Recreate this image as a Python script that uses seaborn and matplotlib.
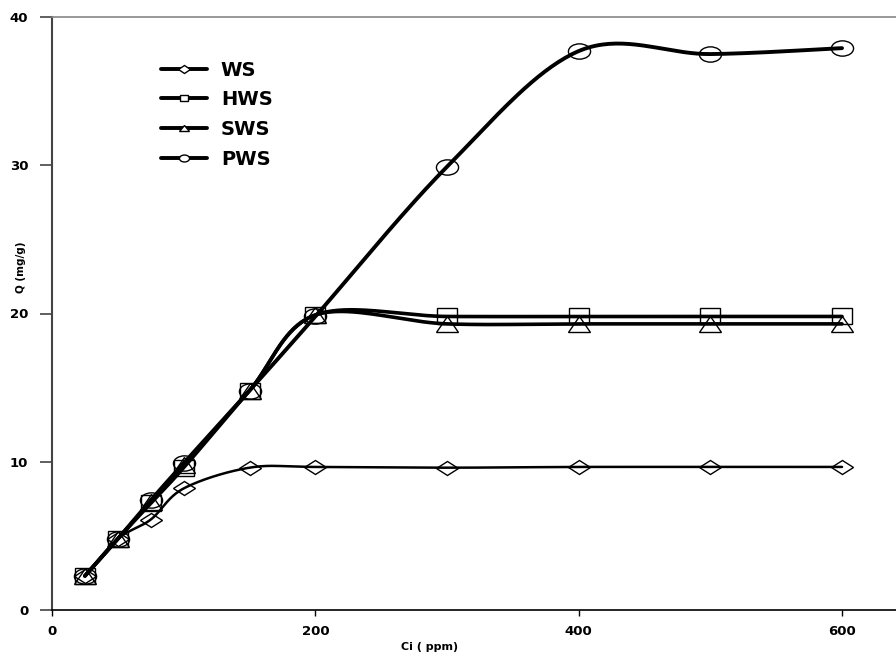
import numpy as np
import pandas as pd
import matplotlib
matplotlib.use("Agg")
import matplotlib.pyplot as plt
import seaborn as sns
from matplotlib.lines import Line2D
from matplotlib.markers import MarkerStyle
from matplotlib.transforms import Affine2D

ci = [25, 50, 75, 100, 150, 200, 300, 400, 500, 600]
ws = [2.3, 4.8, 6.1, 8.2, 9.6, 9.65, 9.6, 9.65, 9.65, 9.65]
hws = [2.3, 4.8, 7.2, 9.6, 14.8, 19.9, 19.8, 19.8, 19.8, 19.8]
sws = [2.3, 4.8, 7.3, 9.8, 14.8, 19.9, 19.3, 19.3, 19.3, 19.3]
pws = [2.3, 4.8, 7.4, 9.9, 14.8, 19.8, 29.9, 37.7, 37.5, 37.9]
series = ["WS", "HWS", "SWS", "PWS"]
xticks = [0, 200, 400, 600]
yticks = [0, 10, 20, 30, 40]


def smooth(x, y, n=40):
    # Excel-like smoothed line (cubic Bezier through the points)
    x = np.asarray(x, float); y = np.asarray(y, float)
    P = np.column_stack([x, y])
    out = []
    for i in range(len(P) - 1):
        p0 = P[i - 1] if i > 0 else P[i]
        p1 = P[i]; p2 = P[i + 1]
        p3 = P[i + 2] if i + 2 < len(P) else P[i + 1]
        c1 = p1 + (p2 - p0) / 6.0
        c2 = p2 - (p3 - p1) / 6.0
        t = np.linspace(0, 1, n)[:, None]
        seg = ((1 - t) ** 3) * p1 + 3 * ((1 - t) ** 2) * t * c1 + 3 * (1 - t) * t ** 2 * c2 + t ** 3 * p2
        out.append(seg if i == 0 else seg[1:])
    s = np.vstack(out)
    return s[:, 0], s[:, 1]


sns.set_style("white")
plt.rcParams['font.family'] = ['DejaVu Sans']
plt.rcParams['text.color'] = 'black'
plt.rcParams['axes.labelcolor'] = 'black'
plt.rcParams['xtick.color'] = 'black'
plt.rcParams['ytick.color'] = 'black'

W, H = 896, 656
L, R, B, T = 52, 896, 610, 17
fig = plt.figure(figsize=(W / 100, H / 100), dpi=100)
ax = fig.add_axes([L / W, 1 - B / H, (R - L) / W, (B - T) / H])
aw, ah = R - L, B - T

vals = {"WS": ws, "HWS": hws, "SWS": sws, "PWS": pws}
base = {"WS": "D", "HWS": "s", "SWS": "^", "PWS": "o"}
xscale = {"WS": 1.6, "HWS": 1.15, "SWS": 1.45, "PWS": 1.45}
msize = {"WS": 7, "HWS": 12, "SWS": 11, "PWS": 11}
lw = {"WS": 1.8, "HWS": 2.6, "SWS": 2.6, "PWS": 2.8}


def mstyle(name):
    return MarkerStyle(base[name], transform=Affine2D().scale(xscale[name], 1.0))


rows = []
for name in series:
    sx, sy = smooth(ci, vals[name])
    rows.append(pd.DataFrame({"x": sx, "y": sy, "s": name}))
curve = pd.concat(rows)

for name in series:
    ax.plot(ci, vals[name], ls="none", marker=mstyle(name), ms=msize[name],
            mfc="none", mec="black", mew=1.0, zorder=3)
for name in series:
    d = curve[curve.s == name]
    sns.lineplot(data=d, x="x", y="y", ax=ax, color="black", lw=lw[name],
                 sort=False, estimator=None, legend=False, zorder=4)

ax.set_xlim(0, 641)
ax.set_ylim(0, 40)
ax.set_xticks(xticks)
ax.set_yticks(yticks)
ax.set_xticklabels([str(t) for t in xticks], fontsize=9.5, fontweight="bold")
ax.set_yticklabels([str(t) for t in yticks], fontsize=9.5, fontweight="bold")
ax.tick_params(axis="x", direction="out", length=4, width=1, color="black",
               pad=7, bottom=True)
ax.tick_params(axis="y", direction="out", length=9, width=1.2, color="#444444",
               pad=8, left=True)
ax.spines["right"].set_visible(False)
ax.spines["top"].set_visible(True)
ax.spines["top"].set_color("#888888")
ax.spines["top"].set_linewidth(1.2)
ax.spines["left"].set_color("#444444")
ax.spines["left"].set_linewidth(1.5)
ax.spines["bottom"].set_color("black")
ax.spines["bottom"].set_linewidth(1.2)

ax.set_xlabel("Ci ( ppm)", fontsize=8, fontweight="bold")
ax.xaxis.set_label_coords((430 - L) / aw, -(642 - B) / ah)
ax.set_ylabel("Q (mg/g)", fontsize=7.5, fontweight="bold")
ax.yaxis.set_label_coords(-(L - 26) / aw, (B - 267) / ah)

handles = []
for name in series:
    handles.append(Line2D([0], [0], color="black", lw=2.8,
                          marker=mstyle(name), ms=5 if name != "WS" else 4,
                          mfc="white", mec="black", mew=1))
leg = ax.legend(handles, series, loc="upper left",
                bbox_to_anchor=((143 - L) / aw, (B - 43) / ah),
                frameon=False, handlelength=2.4, handletextpad=0.7,
                labelspacing=0.55, prop={"size": 14, "weight": "bold"})

fig.savefig("out.png", dpi=100)
